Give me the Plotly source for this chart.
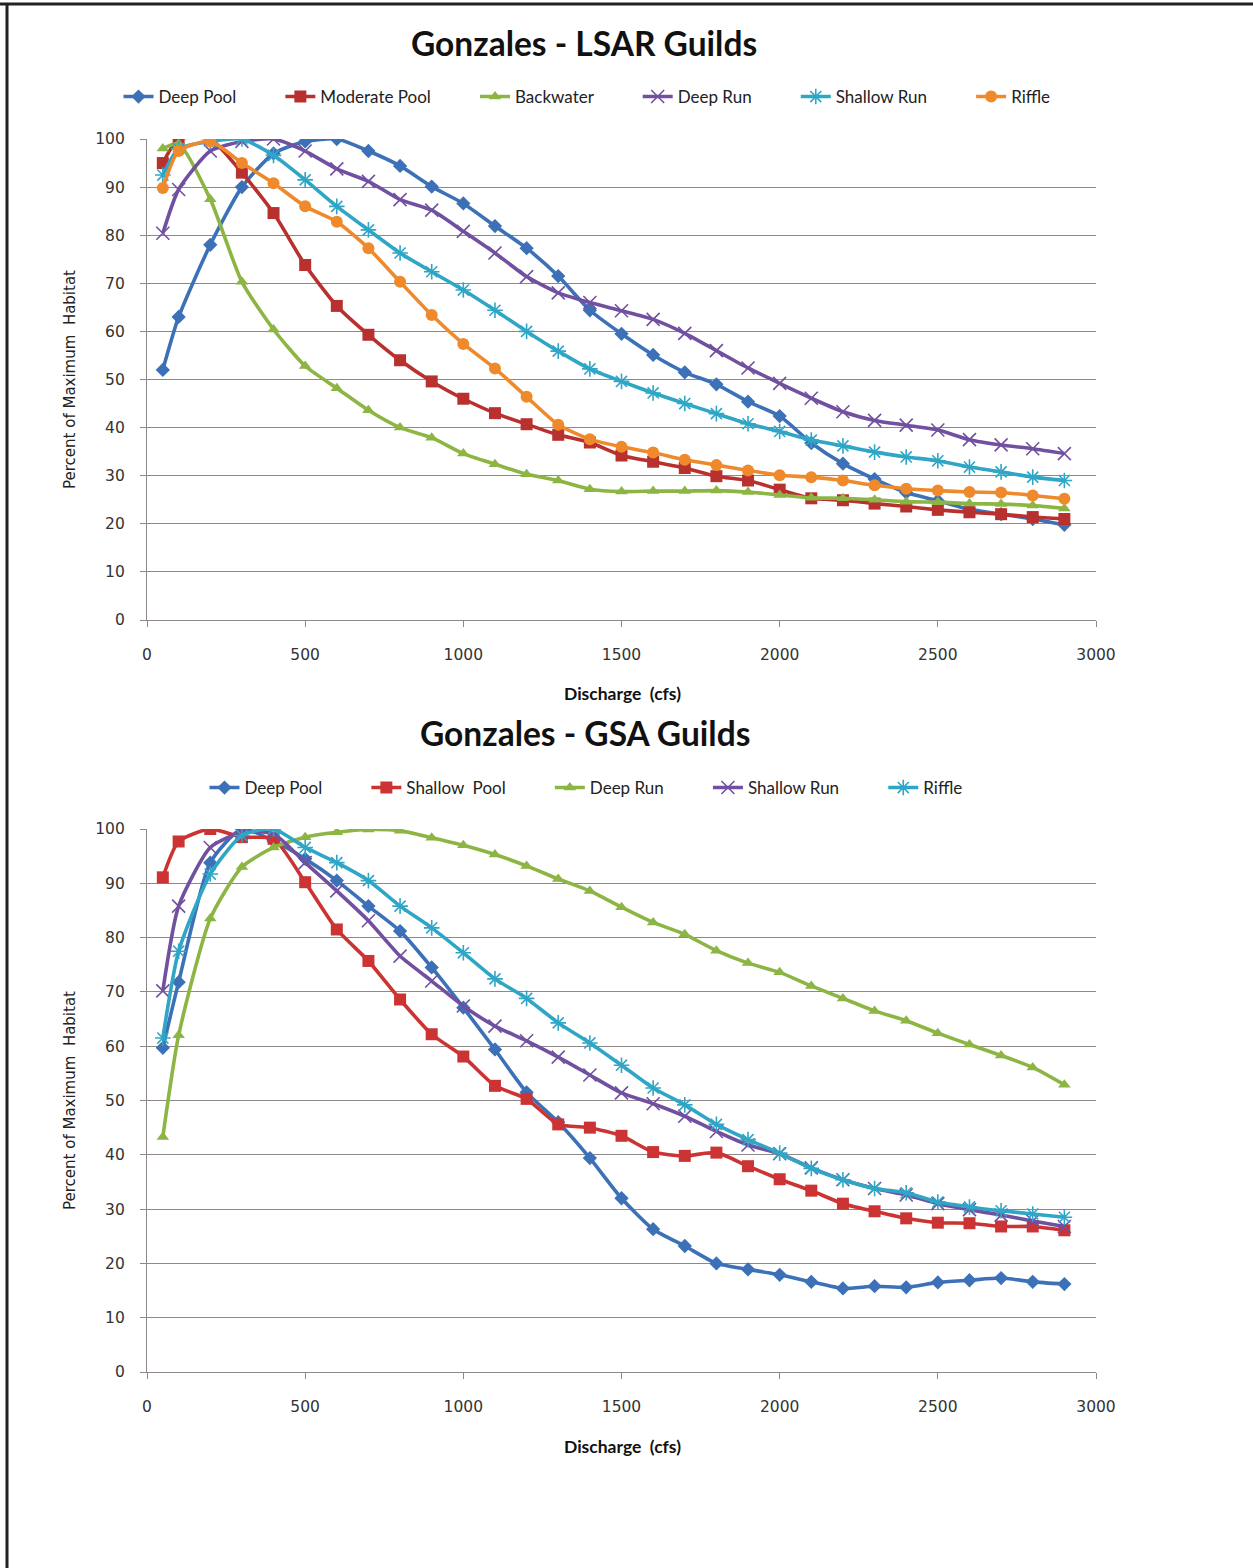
import plotly.graph_objects as go

# ---------------- data ----------------
discharge = [50, 100, 200, 300, 400, 500, 600, 700, 800, 900, 1000, 1100, 1200, 1300, 1400,
             1500, 1600, 1700, 1800, 1900, 2000, 2100, 2200, 2300, 2400, 2500, 2600, 2700, 2800, 2900]

# LSAR guilds (top chart)
lsar_deep_pool = [52, 63, 78, 90, 97, 99.5, 100, 97.5, 94.4, 90.1, 86.6, 81.9, 77.3, 71.5, 64.4,
                  59.5, 55.1, 51.5, 49, 45.4, 42.4, 36.8, 32.5, 29.3, 26.5, 24.8, 23, 22, 21, 19.8]
lsar_moderate_pool = [95, 100, 100, 93, 84.6, 73.8, 65.3, 59.3, 54, 49.6, 46, 43, 40.7, 38.5, 36.9,
                      34.2, 32.9, 31.6, 29.9, 29, 27.1, 25.3, 24.9, 24.2, 23.6, 22.9, 22.4, 22, 21.4, 21]
lsar_backwater = [98, 99, 87.5, 70.3, 60.4, 52.8, 48.2, 43.6, 40, 37.9, 34.6, 32.4, 30.3, 29, 27.2,
                  26.7, 26.8, 26.8, 26.9, 26.6, 26, 25.4, 25.3, 25, 24.6, 24.5, 24.2, 24.1, 23.8, 23.2]
lsar_deep_run = [80.4, 89.5, 97.5, 99.5, 100, 97.5, 93.8, 91.2, 87.4, 85.2, 80.8, 76.3, 71.4, 68, 66,
                 64.3, 62.5, 59.6, 56, 52.4, 49.2, 46.1, 43.3, 41.5, 40.5, 39.5, 37.5, 36.4, 35.6, 34.6]
lsar_shallow_run = [92.5, 98, 99.5, 100, 96.6, 91.5, 86, 81.1, 76.3, 72.4, 68.6, 64.4, 60, 55.9, 52.2,
                    49.6, 47.2, 45, 42.9, 40.8, 39.2, 37.4, 36.2, 34.9, 33.9, 33.1, 31.8, 30.8, 29.7, 29]
lsar_riffle = [89.8, 97.5, 99.5, 95, 90.8, 86, 82.8, 77.3, 70.3, 63.4, 57.4, 52.3, 46.4, 40.6, 37.6,
               36, 34.8, 33.3, 32.2, 31.1, 30.1, 29.7, 29, 28, 27.3, 26.9, 26.6, 26.5, 25.9, 25.2]

# GSA guilds (bottom chart)
gsa_deep_pool = [59.7, 71.8, 93.8, 100, 97.8, 94.5, 90.5, 85.8, 81.2, 74.5, 67.1, 59.4, 51.5, 46, 39.4,
                 32, 26.3, 23.2, 20, 18.9, 17.9, 16.6, 15.4, 15.8, 15.6, 16.5, 16.9, 17.3, 16.6, 16.2]
gsa_shallow_pool = [91.1, 97.7, 100, 98.5, 98.2, 90.2, 81.5, 75.7, 68.6, 62.2, 58.1, 52.7, 50.3, 45.6, 45,
                    43.5, 40.5, 39.8, 40.4, 37.9, 35.5, 33.4, 31, 29.6, 28.3, 27.5, 27.4, 26.8, 26.8, 26.1]
gsa_deep_run = [43.3, 62, 83.5, 93, 96.6, 98.5, 99.4, 99.9, 99.7, 98.4, 97, 95.3, 93.2, 90.8, 88.6,
                85.6, 82.8, 80.6, 77.6, 75.3, 73.6, 71.1, 68.8, 66.5, 64.7, 62.4, 60.3, 58.3, 56.1, 52.9]
gsa_shallow_run = [70.2, 85.8, 96.6, 99.4, 99.1, 93.8, 88.6, 83.1, 76.6, 72, 67.4, 63.7, 61, 58, 54.7,
                   51.4, 49.4, 47.1, 44.3, 41.8, 40.2, 37.6, 35.4, 33.8, 32.6, 31, 29.9, 28.9, 27.8, 26.8]
gsa_riffle = [61.5, 77.5, 91.7, 98.8, 100, 96.6, 93.8, 90.5, 85.8, 81.8, 77.2, 72.4, 68.8, 64.3, 60.6,
              56.5, 52.3, 49.2, 45.6, 42.8, 40.3, 37.5, 35.4, 33.8, 33, 31.3, 30.4, 29.7, 29.1, 28.5]

x_ticks = [0, 500, 1000, 1500, 2000, 2500, 3000]
y_ticks = [0, 10, 20, 30, 40, 50, 60, 70, 80, 90, 100]

title_top = "Gonzales - LSAR Guilds"
title_bottom = "Gonzales - GSA Guilds"
x_title = "Discharge  (cfs)"
y_title = "Percent of Maximum  Habitat"

# ---------------- styles ----------------
BLUE = "#3c71b7"
RED = "#b8312f"
RED2 = "#cc3333"
GREEN = "#8cb543"
PURPLE = "#7150a0"
CYAN = "#2fa6c6"
ORANGE = "#ef8a2c"

W, H = 1253, 1568
PAD = "\u00a0" * 9

def line_trace(name, y, color, symbol, size, legend, xa, ya, open_marker=False, last=False):
    marker = dict(symbol=symbol, size=size, color=color)
    if open_marker:
        marker["line"] = dict(color=color, width=1.6)
    return go.Scatter(
        x=discharge, y=y, name=name + ("" if last else PAD), mode="lines+markers",
        line=dict(color=color, width=3.6, shape="spline", smoothing=0.6),
        marker=marker, legend=legend, xaxis=xa, yaxis=ya,
    )

fig = go.Figure()

top = [
    ("Deep Pool", lsar_deep_pool, BLUE, "diamond", 11, False),
    ("Moderate Pool", lsar_moderate_pool, RED, "square", 12, False),
    ("Backwater", lsar_backwater, GREEN, "triangle-up", 11, False),
    ("Deep Run", lsar_deep_run, PURPLE, "x-thin-open", 13, True),
    ("Shallow Run", lsar_shallow_run, CYAN, "asterisk-open", 13, True),
    ("Riffle", lsar_riffle, ORANGE, "circle", 12, False),
]
for i, (n, y, c, s, sz, op) in enumerate(top):
    fig.add_trace(line_trace(n, y, c, s, sz, "legend", "x", "y", op, i == len(top) - 1))

bottom = [
    ("Deep Pool", gsa_deep_pool, BLUE, "diamond", 11, False),
    ("Shallow  Pool", gsa_shallow_pool, RED2, "square", 12, False),
    ("Deep Run", gsa_deep_run, GREEN, "triangle-up", 11, False),
    ("Shallow Run", gsa_shallow_run, PURPLE, "x-thin-open", 13, True),
    ("Riffle", gsa_riffle, CYAN, "asterisk-open", 13, True),
]
for i, (n, y, c, s, sz, op) in enumerate(bottom):
    fig.add_trace(line_trace(n, y, c, s, sz, "legend2", "x2", "y2", op, i == len(bottom) - 1))

GRID = "#8e8888"
TICKFONT = dict(family="DejaVu Sans", size=15.5, color="#333333")

def px_x(p):
    return p / W

def px_y(p):
    return 1 - p / H

xdom = [px_x(147), px_x(1096)]
axis_x = dict(range=[0, 3000], tickvals=x_ticks, showgrid=False, zeroline=False,
              showline=True, linecolor=GRID, linewidth=1.3, ticks="outside", ticklen=6,
              tickcolor=GRID, tickfont=TICKFONT, ticklabelstandoff=14, automargin=False,
              domain=xdom)
axis_y = dict(range=[0, 100], tickvals=y_ticks, showgrid=True, gridcolor=GRID, gridwidth=1.3,
              zeroline=False, showline=True, linecolor=GRID, linewidth=1.3, ticks="outside",
              ticklen=6, tickcolor=GRID, tickfont=TICKFONT, ticklabelstandoff=12, automargin=False)

fig.update_layout(
    width=W, height=H,
    margin=dict(l=0, r=0, t=0, b=0, pad=0),
    paper_bgcolor="white", plot_bgcolor="white",
    template="none",
    xaxis=dict(axis_x, anchor="y"),
    yaxis=dict(axis_y, anchor="x", domain=[px_y(620), px_y(139)]),
    xaxis2=dict(axis_x, anchor="y2"),
    yaxis2=dict(axis_y, anchor="x2", domain=[px_y(1372), px_y(829)]),
    legend=dict(orientation="h", x=px_x(587), y=px_y(97), xanchor="center", yanchor="middle",
                font=dict(family="Lato", size=17, color="#222222"), bgcolor="rgba(0,0,0,0)",
                traceorder="normal"),
    legend2=dict(orientation="h", x=px_x(586), y=px_y(788), xanchor="center", yanchor="middle",
                 font=dict(family="Lato", size=17, color="#222222"), bgcolor="rgba(0,0,0,0)",
                 traceorder="normal"),
    showlegend=True,
)

ann = []
TITLEFONT = dict(family="Lato", size=33.5, color="#111111", weight="bold")
ann.append(dict(text=title_top, x=px_x(584), y=px_y(43), xref="paper", yref="paper",
                showarrow=False, xanchor="center", yanchor="middle", font=TITLEFONT))
ann.append(dict(text=title_bottom, x=px_x(585), y=px_y(733), xref="paper", yref="paper",
                showarrow=False, xanchor="center", yanchor="middle", font=TITLEFONT))
XT = dict(family="Lato", size=17.5, color="#111111", weight="bold")
for yy in (693, 1446):
    ann.append(dict(text=x_title, x=px_x(622), y=px_y(yy), xref="paper", yref="paper",
                    showarrow=False, xanchor="center", yanchor="middle", font=XT))
YT = dict(family="DejaVu Sans", size=15, color="#222222")
for yy in (380, 1101):
    ann.append(dict(text=y_title, x=px_x(70), y=px_y(yy), xref="paper", yref="paper",
                    showarrow=False, xanchor="center", yanchor="middle", textangle=-90, font=YT))
fig.update_layout(annotations=ann)

# page frame (top and left border lines)
fig.update_layout(shapes=[
    dict(type="line", xref="paper", yref="paper", x0=0, x1=1, y0=px_y(4), y1=px_y(4),
         line=dict(color="#222222", width=3)),
    dict(type="line", xref="paper", yref="paper", x0=px_x(7), x1=px_x(7), y0=0, y1=px_y(3),
         line=dict(color="#222222", width=3)),
])

fig.write_html("out.html", config={"displayModeBar": False},
               post_script="document.body.style.margin='0';")
